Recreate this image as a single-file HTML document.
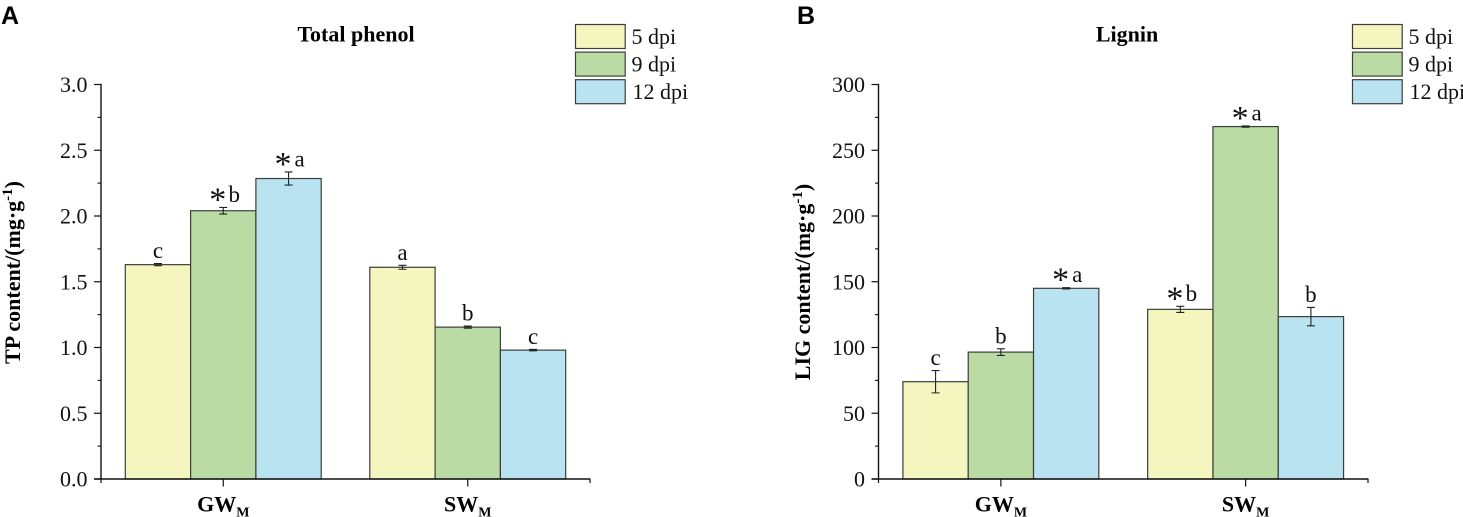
<!DOCTYPE html>
<html>
<head>
<meta charset="utf-8">
<style>
html,body{margin:0;padding:0;background:#fff;}
svg{display:block;font-family:"Liberation Serif",serif;}
</style>
</head>
<body>
<svg id="fig" width="1463" height="517" viewBox="0 0 1463 517" xmlns="http://www.w3.org/2000/svg"></svg>
<script>
const categories = ['GW', 'SW'];
const seriesNames = ['5 dpi', '9 dpi', '12 dpi'];

const phenolValues5 = [1.63, 1.61];
const phenolValues9 = [2.04, 1.155];
const phenolValues12 = [2.285, 0.98];
const phenolErrors5 = [0.008, 0.015];
const phenolErrors9 = [0.025, 0.008];
const phenolErrors12 = [0.05, 0.005];
const phenolLetters5 = ['c', 'a'];
const phenolLetters9 = ['b', 'b'];
const phenolLetters12 = ['a', 'c'];
const phenolStars5 = [false, false];
const phenolStars9 = [true, false];
const phenolStars12 = [true, false];
const phenolTicks = ['0.0', '0.5', '1.0', '1.5', '2.0', '2.5', '3.0'];

const ligninValues5 = [74, 129];
const ligninValues9 = [96.5, 268];
const ligninValues12 = [145, 123.5];
const ligninErrors5 = [8.5, 2.3];
const ligninErrors9 = [2.5, 0.5];
const ligninErrors12 = [0.5, 7];
const ligninLetters5 = ['c', 'b'];
const ligninLetters9 = ['b', 'a'];
const ligninLetters12 = ['a', 'b'];
const ligninStars5 = [false, true];
const ligninStars9 = [false, true];
const ligninStars12 = [true, false];
const ligninTicks = ['0', '50', '100', '150', '200', '250', '300'];

const fills = ['#f5f5bf', '#badba3', '#b9e3f0'];
const NS = 'http://www.w3.org/2000/svg';
const svg = document.getElementById('fig');

function mk(parent, tag, attrs, text) {
  const el = document.createElementNS(NS, tag);
  for (const k in attrs) el.setAttribute(k, attrs[k]);
  if (text !== undefined) el.textContent = text;
  parent.appendChild(el);
  return el;
}

function drawPanel(p) {
  const g = mk(svg, 'g', {});
  
  

  const yScale = v => p.y0 - (v / p.yMax) * (p.y0 - p.yTop);
  const xScale = i => p.x0 + (p.x1 - p.x0) * (i + 0.5) / categories.length;
  const barW = 65.3;

  const letter = mk(g, 'text', {x: p.letterX, y: 24, 'font-family': '"Liberation Sans",sans-serif', 'font-weight': 'bold', 'font-size': 25}, p.letter);
  
  

  const title = mk(g, 'text', {x: p.titleX, y: 41.5, 'text-anchor': 'middle', 'font-weight': 'bold', 'font-size': 22}, p.title);
  
  

  // bars
  p.values.forEach((vals, s) => {
    vals.forEach((v, i) => {
      const left = xScale(i) + (s - 1.5) * barW;
      const bar = mk(g, 'rect', {x: left, y: yScale(v), width: barW, height: p.y0 - yScale(v), fill: fills[s], stroke: '#3a3f3a', 'stroke-width': 1.2});
      
      
    });
  });

  // error bars and significance labels
  p.values.forEach((vals, s) => {
    vals.forEach((v, i) => {
      const cx = xScale(i) + (s - 1) * barW;
      const err = p.errors[s][i];
      const top = yScale(v + err), bot = yScale(v - err);
      const eb = mk(g, 'path', {d: `M${cx - 4} ${top}H${cx + 4}M${cx} ${top}V${bot}M${cx - 4} ${bot}H${cx + 4}`, fill: 'none', stroke: '#222', 'stroke-width': 1.1});
      
      

      const starred = p.stars[s][i];
      const base = top - 5.5;
      const lab = mk(g, 'text', {x: starred ? cx + 11 : cx, y: base, 'text-anchor': 'middle', 'font-size': 23, fill: '#111'}, p.letters[s][i]);
      
      
      if (starred) {
        const st = mk(g, 'text', {x: cx - 5.5, y: base + 8.5, 'text-anchor': 'middle', 'font-size': 34, fill: '#111'}, '*');
        
        
      }
    });
  });

  // axes
  const axisY = mk(g, 'line', {x1: p.x0, x2: p.x0, y1: p.yTop - 0.7, y2: p.y0 + 0.7, stroke: '#111', 'stroke-width': 1.4});
  
  
  const axisX = mk(g, 'line', {x1: p.x0 - 7, x2: p.x1 + 0.5, y1: p.y0, y2: p.y0, stroke: '#111', 'stroke-width': 1.4});
  
  

  p.ticks.forEach((t, i) => {
    const y = yScale(parseFloat(t));
    const tick = mk(g, 'line', {x1: p.x0 - 7, x2: p.x0, y1: y, y2: y, stroke: '#111', 'stroke-width': 1.2});
    
    
    const lbl = mk(g, 'text', {x: p.x0 - 13.5, y: y + 7.5, 'text-anchor': 'end', 'font-size': 22, fill: '#111'}, t);
    
    
    if (i < p.ticks.length - 1) {
      const ym = yScale((parseFloat(t) + parseFloat(p.ticks[i + 1])) / 2);
      const minor = mk(g, 'line', {x1: p.x0 - 3.5, x2: p.x0, y1: ym, y2: ym, stroke: '#111', 'stroke-width': 1.1});
      
      
    }
  });

  [p.x0, p.x1].forEach(x => {
    const endTick = mk(g, 'line', {x1: x, x2: x, y1: p.y0, y2: p.y0 + 4, stroke: '#111', 'stroke-width': 1.2});
    
    
  });

  categories.forEach((c, i) => {
    const x = xScale(i);
    const tick = mk(g, 'line', {x1: x, x2: x, y1: p.y0, y2: p.y0 + 7.5, stroke: '#111', 'stroke-width': 1.2});
    
    
    const lbl = mk(g, 'text', {x: x, y: 511.5, 'text-anchor': 'middle', 'font-weight': 'bold', 'font-size': 22});
    
    
    mk(lbl, 'tspan', {}, c);
    mk(lbl, 'tspan', {dy: 5, 'font-size': 14}, 'M');
  });

  // y title
  const yt = mk(g, 'text', {transform: `translate(${p.yTitleX},${p.yTitleY}) rotate(-90)`, 'text-anchor': 'middle', 'font-weight': 'bold', 'font-size': 22});
  
  
  mk(yt, 'tspan', {}, p.yLabel + ' content/(mg·g');
  mk(yt, 'tspan', {dy: -8, 'font-size': 15}, '-1');
  mk(yt, 'tspan', {dy: 8}, ')');

  // legend
  seriesNames.forEach((n, s) => {
    const y = 24.5 + s * 27.6;
    const sw = mk(g, 'rect', {x: p.legendX, y: y, width: 49.7, height: 24, fill: fills[s], stroke: '#3a3f3a', 'stroke-width': 1.2});
    
    
    const tx = mk(g, 'text', {x: p.legendX + (s === 2 ? 57 : 56), y: y + 19.5, 'font-size': 22, fill: '#111'}, n);
    
    
  });
}

drawPanel({
  id: 'phenol', letter: 'A', letterX: 1, title: 'Total phenol', titleX: 356,
  x0: 101, x1: 590, y0: 479, yTop: 84.5, yMax: 3,
  values: [phenolValues5, phenolValues9, phenolValues12],
  errors: [phenolErrors5, phenolErrors9, phenolErrors12],
  letters: [phenolLetters5, phenolLetters9, phenolLetters12],
  stars: [phenolStars5, phenolStars9, phenolStars12],
  ticks: phenolTicks, yLabel: 'TP', yTitleX: 20, yTitleY: 272.5, legendX: 575.5
});
drawPanel({
  id: 'lignin', letter: 'B', letterX: 797, title: 'Lignin', titleX: 1127,
  x0: 878.5, x1: 1368, y0: 479, yTop: 84.5, yMax: 300,
  values: [ligninValues5, ligninValues9, ligninValues12],
  errors: [ligninErrors5, ligninErrors9, ligninErrors12],
  letters: [ligninLetters5, ligninLetters9, ligninLetters12],
  stars: [ligninStars5, ligninStars9, ligninStars12],
  ticks: ligninTicks, yLabel: 'LIG', yTitleX: 810, yTitleY: 282, legendX: 1352.5
});
</script>
</body>
</html>
